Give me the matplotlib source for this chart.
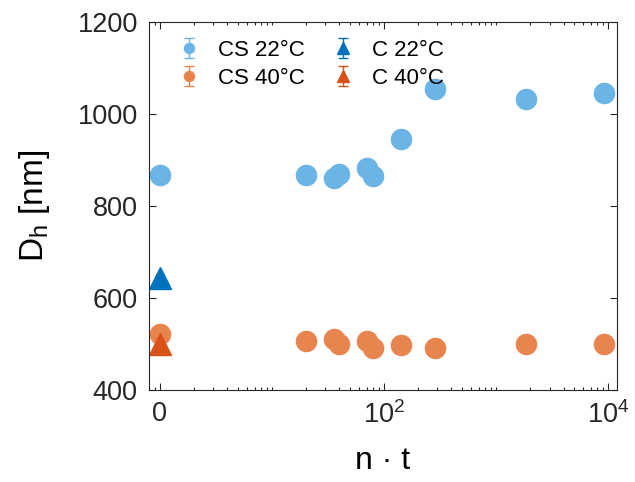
import numpy as np
import matplotlib
matplotlib.use("Agg")
import matplotlib.pyplot as plt
from matplotlib.ticker import LogLocator, NullFormatter
from matplotlib.legend_handler import HandlerErrorbar
from matplotlib.container import ErrorbarContainer

plt.rcParams.update({
    "font.family": ["Liberation Sans", "DejaVu Sans"],
    "mathtext.default": "regular",
    "font.size": 19.5,
    "axes.edgecolor": "#262626",
    "xtick.color": "#262626",
    "ytick.color": "#262626",
    "text.color": "#262626",
})

# n*t values (0 is shown at the left, axis is log of n*t + 1)
nt_cs = [0, 19, 35, 39, 70, 79, 141, 284, 1850, 9200]
dh_cs22 = [867, 867, 861, 870, 883, 865, 946, 1054, 1033, 1046]
dh_cs40 = [522, 506, 510, 501, 507, 491, 498, 492, 499, 499]
err_cs22 = [6, 6, 6, 6, 6, 6, 6, 6, 6, 6]
err_cs40 = [6, 6, 6, 6, 6, 6, 6, 6, 6, 6]

nt_c = [0]
dh_c22 = [643]
dh_c40 = [499]
err_c = [4]

c_cs22 = "#6AB4E6"
c_cs40 = "#E8854F"
c_c22 = "#0072BD"
c_c40 = "#D95319"

fig = plt.figure(figsize=(6.35, 4.82), dpi=100)
ax = fig.add_axes([0.2346, 0.1909, 0.7371, 0.7635])

x_cs = np.array(nt_cs) + 1
x_c = np.array(nt_c) + 1

ax.errorbar(x_cs, dh_cs22, yerr=err_cs22, fmt="o", ms=14.5, color=c_cs22,
            elinewidth=1, capsize=3.5, label="CS 22°C")
ax.errorbar(x_cs, dh_cs40, yerr=err_cs40, fmt="o", ms=14.5, color=c_cs40,
            elinewidth=1, capsize=3.5, label="CS 40°C")
ax.errorbar(x_c, dh_c22, yerr=err_c, fmt="^", ms=16, color=c_c22,
            elinewidth=1, capsize=3.5, label="C 22°C")
ax.errorbar(x_c, dh_c40, yerr=err_c, fmt="^", ms=16, color=c_c40,
            elinewidth=1, capsize=3.5, label="C 40°C")

ax.set_xscale("log")
ax.set_xlim(0.80, 12000)
ax.set_ylim(400, 1200)
ax.set_xticks([1, 100, 10000])
ax.set_xticklabels(["0", "$10^2$", "$10^4$"])
ax.xaxis.set_minor_locator(LogLocator(base=10, subs=np.arange(1, 10), numticks=20))
ax.xaxis.set_minor_formatter(NullFormatter())
ax.set_yticks([400, 600, 800, 1000, 1200])

ax.tick_params(which="both", direction="in", top=True, right=True, width=0.8)
ax.tick_params(which="major", length=5, pad=8)
ax.tick_params(which="minor", length=2.5)
for s in ax.spines.values():
    s.set_linewidth(0.8)

ax.set_xlabel("n · t", fontsize=23, labelpad=12)
ax.set_ylabel("D$_h$ [nm]", fontsize=24, labelpad=18)

ax.legend(ncol=2, frameon=False, fontsize=16, loc="upper left",
          bbox_to_anchor=(0.02, 1.005), handlelength=1.0, columnspacing=1.2,
          labelspacing=0.3, handletextpad=0.8, markerscale=0.5, labelcolor="black",
          handler_map={ErrorbarContainer: HandlerErrorbar(yerr_size=0.45)})

fig.savefig("out.png", dpi=100)
